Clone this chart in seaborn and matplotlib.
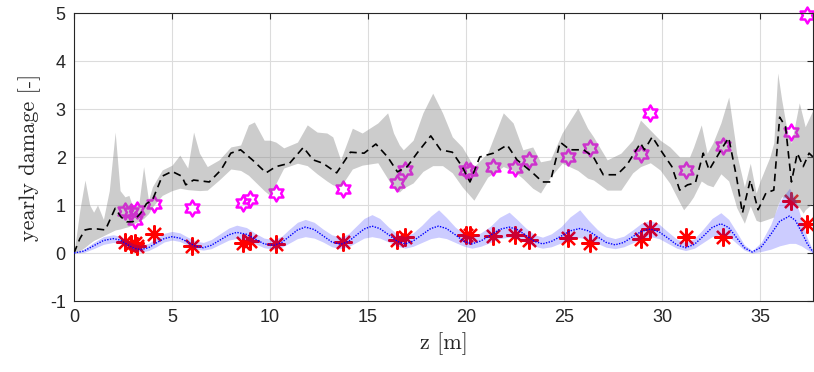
import numpy as np
import pandas as pd
import matplotlib
matplotlib.use("Agg")
import matplotlib.pyplot as plt
from matplotlib.path import Path
import seaborn as sns

# ---------------- data ----------------
# blue model curve and its band
blue_z = [0.0, 0.5, 1.0, 1.5, 2.0,
          2.35, 2.7, 3.05, 3.4,
          3.8, 4.2, 4.6, 5.0,
          5.4, 5.8, 6.2, 6.6,
          7.0, 7.45, 7.9, 8.3,
          8.8, 9.25, 9.7, 10.2,
          10.6, 11.0, 11.4, 11.8,
          12.25, 12.7, 13.15, 13.6,
          14.0, 14.4, 14.8, 15.2,
          15.6, 16.05, 16.5, 16.9,
          17.3, 17.75, 18.2, 18.6,
          19.0, 19.45, 19.9, 20.3,
          20.75, 21.25, 21.7, 22.2,
          22.6, 23.05, 23.5, 23.9,
          24.35, 24.85, 25.3, 25.8,
          26.25, 26.7, 27.15, 27.6,
          28.05, 28.5, 28.95, 29.4,
          29.85, 30.3, 30.75, 31.2,
          31.65, 32.1, 32.55, 33.0,
          33.4, 33.8, 34.2, 34.6,
          35.05, 35.55, 36.0, 36.5,
          36.8, 37.1, 37.4, 37.7]
blue_mid = [0.0, 0.04, 0.15, 0.26, 0.30,
            0.27, 0.18, 0.10, 0.07,
            0.11, 0.21, 0.30, 0.34,
            0.31, 0.23, 0.14, 0.11,
            0.16, 0.27, 0.38, 0.43,
            0.39, 0.29, 0.19, 0.16,
            0.22, 0.35, 0.48, 0.54,
            0.49, 0.36, 0.23, 0.18,
            0.24, 0.37, 0.50, 0.56,
            0.51, 0.38, 0.24, 0.19,
            0.25, 0.38, 0.51, 0.56,
            0.51, 0.38, 0.24, 0.19,
            0.25, 0.37, 0.49, 0.54,
            0.49, 0.37, 0.24, 0.19,
            0.24, 0.35, 0.46, 0.51,
            0.46, 0.34, 0.22, 0.17,
            0.22, 0.34, 0.45, 0.50,
            0.44, 0.31, 0.17, 0.11,
            0.18, 0.35, 0.53, 0.61,
            0.53, 0.32, 0.11, 0.02,
            0.12, 0.39, 0.66, 0.77,
            0.68, 0.45, 0.20, 0.02]
blue_up = [0.0, 0.08, 0.22, 0.34, 0.38,
           0.35, 0.27, 0.19, 0.16,
           0.20, 0.31, 0.41, 0.45,
           0.42, 0.33, 0.25, 0.22,
           0.28, 0.40, 0.52, 0.58,
           0.53, 0.41, 0.31, 0.28,
           0.35, 0.50, 0.64, 0.70,
           0.64, 0.50, 0.38, 0.33,
           0.40, 0.56, 0.72, 0.80,
           0.72, 0.54, 0.39, 0.34,
           0.42, 0.58, 0.77, 0.90,
           0.74, 0.54, 0.39, 0.34,
           0.42, 0.56, 0.74, 0.85,
           0.70, 0.52, 0.38, 0.33,
           0.40, 0.55, 0.75, 0.90,
           0.68, 0.49, 0.35, 0.30,
           0.35, 0.48, 0.62, 0.68,
           0.60, 0.44, 0.29, 0.22,
           0.30, 0.50, 0.72, 0.84,
           0.70, 0.44, 0.17, 0.05,
           0.22, 0.60, 1.08, 1.35,
           1.12, 0.72, 0.32, 0.05]
blue_lo = [0.0, 0.01, 0.09, 0.18, 0.22,
           0.20, 0.12, 0.04, 0.02,
           0.05, 0.13, 0.23, 0.27,
           0.24, 0.16, 0.08, 0.06,
           0.09, 0.18, 0.27, 0.30,
           0.27, 0.19, 0.11, 0.08,
           0.12, 0.21, 0.30, 0.34,
           0.31, 0.23, 0.13, 0.09,
           0.13, 0.22, 0.31, 0.34,
           0.31, 0.23, 0.14, 0.10,
           0.14, 0.22, 0.30, 0.33,
           0.30, 0.22, 0.14, 0.10,
           0.14, 0.22, 0.30, 0.33,
           0.30, 0.22, 0.14, 0.10,
           0.13, 0.21, 0.28, 0.32,
           0.28, 0.20, 0.12, 0.09,
           0.13, 0.21, 0.30, 0.34,
           0.30, 0.20, 0.10, 0.05,
           0.10, 0.22, 0.34, 0.39,
           0.35, 0.20, 0.06, 0.0,
           0.03, 0.08, 0.15, 0.20,
           0.20, 0.15, 0.07, 0.0]

# grey band
grey_z = [0.0, 0.3, 0.56, 0.8, 1.0, 1.2, 1.5, 1.8, 2.1, 2.35, 2.6, 2.8, 3.0, 3.3,
          3.55, 3.8, 4.0, 4.5, 5.0, 5.4, 5.8, 6.1, 6.4, 6.8, 7.4, 8.0, 8.5, 8.9,
          9.2, 9.7, 10.0, 10.3, 10.7, 11.4, 11.9, 12.4, 12.9, 13.2, 13.6, 14.2,
          14.7, 15.5, 16.0, 16.3, 16.6, 16.8, 17.3, 17.8, 18.3, 18.8, 19.3, 19.8,
          20.4, 21.1, 21.9, 22.4, 22.9, 23.4, 23.8, 24.3, 24.9, 25.7, 26.2, 26.5,
          27.2, 27.9, 28.5, 28.9, 29.4, 29.9, 30.4, 30.9, 31.1, 31.4, 31.6, 32.0,
          32.3, 32.6, 33.0, 33.4, 33.7, 33.8, 34.2, 34.5, 34.8, 35.0, 35.5, 35.7,
          35.9, 36.1, 36.4, 36.6, 37.0, 37.2, 37.3, 37.7]
grey_up = [0.0, 0.9, 1.52, 1.0, 0.85, 1.0, 0.7, 1.3, 2.52, 1.3, 1.17, 1.2, 0.96, 1.0,
           1.8, 1.1, 1.38, 1.73, 1.83, 2.04, 1.77, 2.52, 2.08, 1.8, 1.94, 2.21, 2.25, 2.67,
           2.73, 2.35, 2.35, 2.31, 2.19, 2.31, 2.67, 2.52, 2.5, 2.42, 1.94, 2.6,
           2.5, 2.71, 2.92, 2.5, 2.25, 2.15, 2.35, 2.92, 3.33, 2.92, 2.42, 2.21,
           1.8, 2.08, 2.92, 2.71, 2.15, 2.21, 1.9, 1.94, 2.5, 3.02, 2.6, 2.42,
           1.94, 2.08, 2.35, 2.77, 2.56, 2.35, 2.21, 2.0, 2.0, 2.0, 2.2, 2.67,
           2.08, 2.3, 2.71, 3.25, 2.4, 2.08, 1.38, 1.87, 1.25, 1.5, 2.0, 2.3,
           3.75, 3.2, 2.5, 2.29, 3.13, 2.8, 2.63, 2.98]
grey_lo = [0.0, 0.05, 0.12, 0.2, 0.26, 0.3, 0.36, 0.42, 0.48, 0.5, 0.53, 0.55, 0.6, 0.66,
           0.72, 0.82, 0.96, 1.2, 1.3, 1.35, 1.32, 1.31, 1.3, 1.31, 1.52, 1.75, 1.72, 1.62,
           1.5, 1.3, 1.2, 1.45, 1.77, 1.87, 1.82, 1.65, 1.5, 1.42, 1.38, 1.75,
           1.83, 1.88, 1.55, 1.35, 1.27, 1.35, 1.46, 1.7, 1.82, 1.82, 1.67, 1.38,
           1.1, 1.58, 1.8, 1.72, 1.55, 1.35, 1.25, 1.58, 1.87, 1.72, 1.56, 1.52,
           1.31, 1.31, 1.67, 1.8, 1.88, 1.73, 1.45, 1.05, 0.9, 1.05, 1.17, 1.5,
           1.42, 1.38, 1.65, 1.5, 1.1, 0.95, 0.62, 0.98, 0.68, 0.65, 0.72, 0.75,
           1.0, 1.17, 1.15, 1.1, 0.95, 0.83, 0.9, 1.04]

# black dashed curve
black_z = [0.0, 0.3, 0.56, 0.8, 1.2, 1.6, 2.1, 2.4, 2.7, 3.0, 3.4, 3.7, 4.0, 4.5, 5.0,
           5.5, 5.7, 6.1, 6.9, 7.5, 8.0, 8.5, 9.1, 9.8, 10.3, 11.0, 11.7, 12.2, 12.7,
           13.4, 14.1, 14.8, 15.4, 16.0, 16.5, 17.0, 17.5, 18.2, 18.7, 19.3, 19.8,
           20.2, 20.7, 21.4, 22.1, 22.6, 23.4, 23.9, 24.3, 24.8, 25.3, 26.0, 26.5,
           27.0, 27.7, 28.2, 28.9, 29.1, 29.5, 30.0, 30.5, 30.9, 31.3, 31.7, 32.1,
           32.4, 33.1, 33.4, 33.8, 34.1, 34.5, 34.9, 35.3, 35.7, 36.0, 36.3, 36.6,
           36.9, 37.2, 37.5, 37.7]
black_v = [0.0, 0.3, 0.48, 0.5, 0.5, 0.48, 0.93, 0.75, 0.65, 0.65, 0.83, 1.03, 1.1, 1.6, 1.7,
           1.6, 1.42, 1.52, 1.48, 1.73, 2.08, 2.15, 1.94, 1.67, 1.8, 1.87, 2.2, 1.94, 1.87,
           1.67, 2.1, 2.08, 2.27, 2.0, 1.69, 1.8, 2.08, 2.44, 2.15, 2.1, 1.8,
           1.48, 2.0, 2.08, 2.25, 1.94, 1.67, 1.48, 1.48, 2.31, 2.15, 2.15, 2.0,
           1.63, 1.63, 1.83, 2.29, 2.15, 2.42, 2.1, 1.8, 1.31, 1.42, 1.46, 2.08,
           1.73, 2.21, 2.4, 1.58, 0.83, 1.52, 0.9, 1.25, 1.31, 2.83, 2.63, 1.48,
           2.08, 1.8, 2.08, 2.0]

# measured points
meas_z = [2.6, 2.9, 3.1, 3.2, 4.1, 6.0, 8.6, 9.0, 10.3, 13.7, 16.5, 16.9, 20.0, 20.2,
          21.4, 22.5, 23.2, 25.2, 26.3, 28.9, 29.4, 31.2, 33.1, 36.6, 37.4]
red_v = [0.23, 0.18, 0.20, 0.15, 0.40, 0.14, 0.21, 0.24, 0.18, 0.23, 0.27, 0.33, 0.38, 0.38,
         0.35, 0.38, 0.28, 0.31, 0.21, 0.29, 0.50, 0.33, 0.33, 1.08, 0.60]
mag_v = [0.87, 0.85, 0.68, 0.90, 1.02, 0.94, 1.04, 1.12, 1.25, 1.33, 1.46, 1.73, 1.73, 1.70,
         1.79, 1.77, 1.94, 2.00, 2.19, 2.06, 2.92, 1.73, 2.23, 2.52, 4.96]

x_ticks = [0, 5, 10, 15, 20, 25, 30, 35]
y_ticks = [-1, 0, 1, 2, 3, 4, 5]

# ---------------- figure ----------------
sns.set_style("white")
plt.rcParams["font.family"] = ["Liberation Sans", "DejaVu Sans"]
plt.rcParams["mathtext.fontset"] = "cm"

fig = plt.figure(figsize=(8.14, 3.72), dpi=100)
ax = fig.add_axes([74 / 814, 71 / 372, 739 / 814, 288 / 372])

hexagram = Path.unit_regular_star(6, 0.577)

df_meas = pd.DataFrame({"z": meas_z, "red": red_v, "mag": mag_v})
sns.lineplot(data=df_meas, x="z", y="mag", ax=ax, estimator=None, sort=False,
             linestyle="none", marker=hexagram, markersize=11.5,
             markerfacecolor="none", markeredgecolor="#ff00ff",
             markeredgewidth=1.8, zorder=2, clip_on=False)
sns.lineplot(data=df_meas, x="z", y="red", ax=ax, estimator=None, sort=False,
             linestyle="none", marker=(8, 2, 0), markersize=13,
             markeredgecolor="#ff0000", markeredgewidth=1.6, zorder=2)

ax.fill_between(grey_z, grey_lo, grey_up, color=(0.5, 0.5, 0.5), alpha=0.4,
                linewidth=0, zorder=3)
ax.fill_between(blue_z, blue_lo, blue_up, color=(0.0, 0.0, 1.0), alpha=0.2,
                linewidth=0, zorder=3)

sns.lineplot(x=black_z, y=black_v, ax=ax, estimator=None, sort=False,
             color="black", linestyle=(0, (4.5, 3.0)), linewidth=1.2, zorder=4)
sns.lineplot(x=blue_z, y=blue_mid, ax=ax, estimator=None, sort=False,
             color="#0000ff", linestyle=(0, (1.0, 1.0)), linewidth=1.0, zorder=4)

ax.set_xlim(0, 37.7)
ax.set_ylim(-1, 5)
ax.set_xticks(x_ticks)
ax.set_yticks(y_ticks)
ax.set_xticklabels([str(t) for t in x_ticks])
ax.set_yticklabels([str(t) for t in y_ticks])
ax.tick_params(axis="both", which="both", direction="in", length=4, width=0.8,
               top=True, right=True, labelsize=13, colors="#262626", pad=6)
ax.grid(True, color="#dcdcdc", linewidth=0.8)
ax.set_axisbelow(True)
for sp in ax.spines.values():
    sp.set_color("#262626")
    sp.set_linewidth(0.8)

ax.set_xlabel("z [m]", fontsize=16, labelpad=4, fontfamily="cmr10")
ax.set_ylabel("yearly damage [-]", fontsize=16, labelpad=6, fontfamily="cmr10")

fig.savefig("out.png", dpi=100)
